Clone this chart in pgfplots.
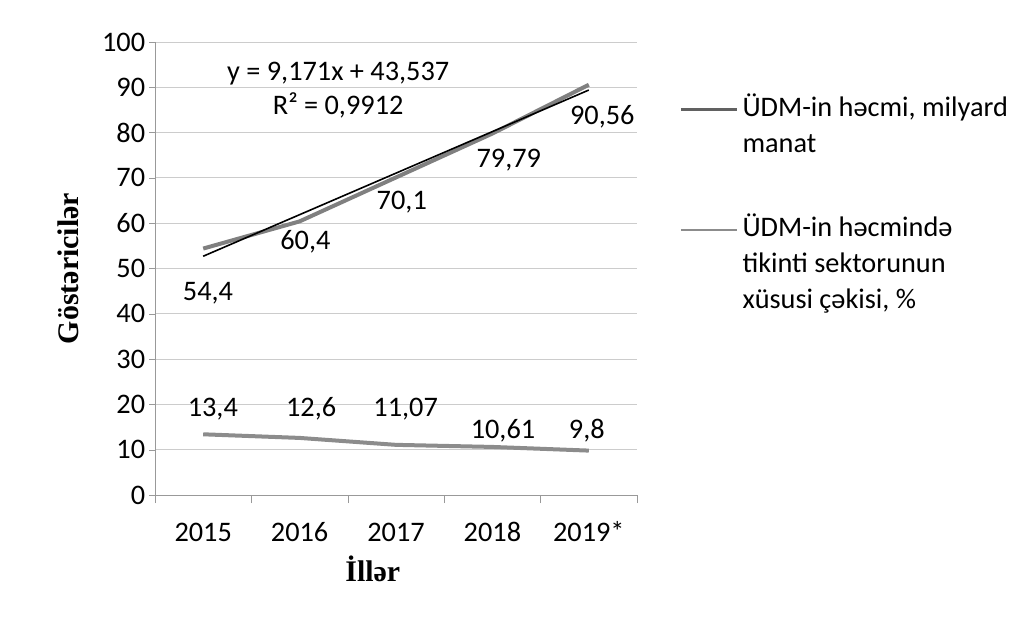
\documentclass[border=0pt]{standalone}
\usepackage{pgfplots}
\pgfplotsset{compat=1.18}
\usepackage{fontspec}
\setmainfont{Carlito}
\newfontfamily\titlefont{Liberation Serif}
\renewcommand{\arraystretch}{1.03}
\definecolor{gdp}{gray}{0.50}
\definecolor{share}{gray}{0.55}
\definecolor{legA}{gray}{0.38}
\definecolor{legB}{gray}{0.55}
\begin{document}
\fontsize{14.2}{17.5}\selectfont
\begin{tikzpicture}
\useasboundingbox (0,0) rectangle (512.5bp,310.5bp);
\begin{axis}[
  at={(77.5bp,63bp)}, anchor=south west,
  scale only axis, width=241bp, height=226.5bp,
  xmin=-0.5, xmax=4.5, ymin=0, ymax=100,
  xtick={0,1,2,3,4},
  xticklabels={2015,2016,2017,2018,2019*},
  major x tick style={draw=none},
  minor xtick={-0.5,0.5,1.5,2.5,3.5,4.5},
  ytick={0,10,...,100},
  tick align=outside,
  major tick length=3bp, minor tick length=4bp,
  axis x line*=bottom, axis y line*=left,
  axis line style={black!40,-},
  tick style={black!40},
  ymajorgrids, grid style={black!20, line width=0.4bp},
  /pgf/number format/assume math mode=true,
  ticklabel style={font=\fontsize{14.2}{16}\selectfont},
  yticklabel style={xshift=3bp},
  xticklabel style={anchor=base, yshift=-20bp},
  xlabel={\titlefont\bfseries İllər},
  ylabel={\titlefont\bfseries Göstəricilər},
  label style={font=\fontsize{15}{17}\selectfont},
  xlabel style={at={(axis description cs:0.452,-0.163)}, anchor=center},
  ylabel style={at={(axis description cs:-0.179,0.5)}, anchor=center},
  clip=false,
  legend cell align=left,
  legend style={at={(axis description cs:1.087,0.901)}, anchor=north west,
    draw=none, fill=none, inner sep=0pt,
    font=\fontsize{14.2}{17.5}\selectfont,
    cells={anchor=base west},
    row sep=41.5bp},
]
\addlegendimage{legend image code/.code={\draw[legA, line width=1.6bp] (0bp,3.6bp) -- (28bp,3.6bp);}}
\addlegendentry{{\begin{tabular}[t]{@{}l@{}}ÜDM-in həcmi, milyard\\manat\end{tabular}}}
\addlegendimage{legend image code/.code={\draw[legB, line width=1bp] (0bp,3.6bp) -- (28bp,3.6bp);}}
\addlegendentry{{\begin{tabular}[t]{@{}l@{}}ÜDM-in həcmində\\tikinti sektorunun\\xüsusi çəkisi, \%\end{tabular}}}
\addplot[gdp, line width=2bp, forget plot] coordinates {(0,54.4) (1,60.4) (2,70.1) (3,79.79) (4,90.56)};
\addplot[share, line width=2bp, forget plot] coordinates {(0,13.4) (1,12.6) (2,11.07) (3,10.61) (4,9.8)};
\addplot[black, line width=0.8bp, forget plot] coordinates {(0,52.708) (4,89.392)};
\node at (axis cs:0.05,44.5) {54,4};
\node at (axis cs:1.06,55.9) {60,4};
\node at (axis cs:2.06,64.6) {70,1};
\node at (axis cs:3.17,74) {79,79};
\node at (axis cs:4.14,83.4) {90,56};
\node at (axis cs:0.1,19) {13,4};
\node at (axis cs:1.12,19) {12,6};
\node at (axis cs:2.1,19) {11,07};
\node at (axis cs:3.11,14.1) {10,61};
\node at (axis cs:3.98,14.1) {9,8};
\node at (axis cs:1.4,93) {y = 9,171x + 43,537};
\node at (axis cs:1.4,85.9) {R² = 0,9912};
\end{axis}
\end{tikzpicture}
\end{document}
